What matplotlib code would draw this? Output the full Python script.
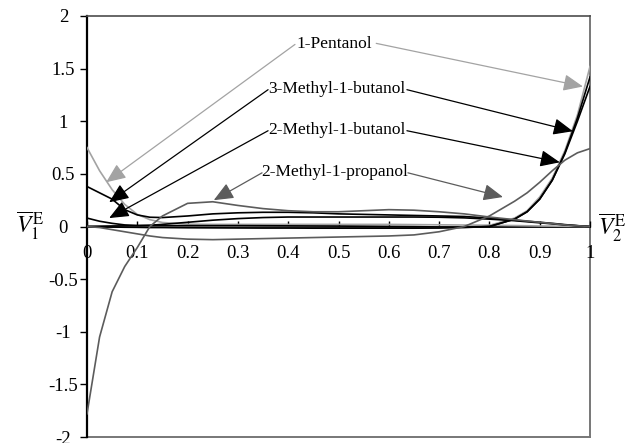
import numpy as np
import matplotlib
matplotlib.use("Agg")
import matplotlib.pyplot as plt

plt.rcParams["font.family"] = ["Liberation Serif", "DejaVu Serif"]
plt.rcParams["mathtext.fontset"] = "stix"

# mole fraction grid
x = [0, 0.025, 0.05, 0.075, 0.1, 0.125, 0.15, 0.2, 0.25, 0.3, 0.35, 0.4, 0.45,
     0.5, 0.55, 0.6, 0.65, 0.7, 0.75, 0.8, 0.85, 0.875, 0.9, 0.925, 0.95, 0.975, 1.0]

# partial molar excess volumes of component 1
pent_v1 = [0.75, 0.53, 0.35, 0.21, 0.115, 0.065, 0.038, 0.022, 0.02, 0.02, 0.02, 0.02, 0.02,
           0.02, 0.02, 0.02, 0.018, 0.016, 0.014, 0.012, 0.009, 0.007, 0.005, 0.004, 0.002, 0.001, 0.0]
mb3_v1 = [0.38, 0.32, 0.26, 0.16, 0.11, 0.088, 0.085, 0.1, 0.12, 0.13, 0.135, 0.135, 0.13,
          0.12, 0.115, 0.11, 0.105, 0.1, 0.095, 0.08, 0.06, 0.05, 0.04, 0.03, 0.018, 0.008, 0.0]
mb2_v1 = [0.08, 0.05, 0.03, 0.015, 0.01, 0.012, 0.02, 0.04, 0.06, 0.075, 0.085, 0.09, 0.09,
          0.09, 0.09, 0.09, 0.09, 0.088, 0.082, 0.07, 0.055, 0.045, 0.035, 0.025, 0.015, 0.007, 0.0]
mp2_v1 = [-1.78, -1.05, -0.62, -0.38, -0.2, 0.0, 0.1, 0.22, 0.235, 0.2, 0.17, 0.15, 0.14,
          0.14, 0.15, 0.16, 0.155, 0.14, 0.12, 0.09, 0.065, 0.052, 0.04, 0.028, 0.015, 0.007, 0.0]

# partial molar excess volumes of component 2
pent_v2 = [0.0, 0.0, 0.0, 0.0, 0.0, 0.0, 0.0, 0.0, 0.0, 0.0, 0.0, 0.0, 0.0,
           0.0, 0.0, 0.0, 0.0, -0.005, -0.005, 0.01, 0.08, 0.15, 0.28, 0.46, 0.72, 1.06, 1.52]
mb3_v2 = [0.0, -0.003, -0.005, -0.007, -0.008, -0.01, -0.01, -0.012, -0.013, -0.014, -0.015, -0.015, -0.016,
          -0.016, -0.016, -0.016, -0.016, -0.015, -0.01, 0.0, 0.07, 0.14, 0.26, 0.44, 0.7, 1.03, 1.42]
mb2_v2 = [0.0, 0.003, 0.005, 0.006, 0.007, 0.008, 0.008, 0.008, 0.008, 0.008, 0.007, 0.006, 0.005,
          0.004, 0.002, 0.0, -0.002, -0.004, -0.005, 0.0, 0.07, 0.14, 0.26, 0.44, 0.69, 1.0, 1.33]
mp2_v2 = [0.0, -0.01, -0.03, -0.05, -0.07, -0.09, -0.105, -0.12, -0.125, -0.12, -0.115, -0.11, -0.105,
          -0.1, -0.095, -0.09, -0.08, -0.05, 0.0, 0.1, 0.24, 0.32, 0.42, 0.53, 0.63, 0.7, 0.74]

names = ["1-Pentanol", "3-Methyl-1-butanol", "2-Methyl-1-butanol", "2-Methyl-1-propanol"]
colors = ["#a3a3a3", "#000000", "#000000", "#5c5c5c"]
v1_series = [pent_v1, mb3_v1, mb2_v1, mp2_v1]
v2_series = [pent_v2, mb3_v2, mb2_v2, mp2_v2]

# label centres and arrow (start, tip) pairs, in data units
label_pos = [(0.492, 1.73), (0.496, 1.31), (0.496, 0.92), (0.492, 0.515)]
arrows = [
    [((0.4135, 1.73), (0.038, 0.42)), ((0.575, 1.74), (0.986, 1.33))],
    [((0.36, 1.30), (0.044, 0.23)), ((0.636, 1.30), (0.966, 0.905))],
    [((0.36, 0.91), (0.044, 0.08)), ((0.636, 0.91), (0.94, 0.61))],
    [((0.348, 0.51), (0.252, 0.25)), ((0.638, 0.51), (0.827, 0.28))],
]

fig = plt.figure(figsize=(6.32, 4.43), dpi=100)
ax = fig.add_axes([87 / 632, 1 - 437 / 443, 503 / 632, 421 / 443])

for c, v1, v2 in zip(colors, v1_series, v2_series):
    ax.plot(x, v1, color=c, lw=1.2, zorder=3)
    ax.plot(x, v2, color=c, lw=1.2, zorder=3)

for name, c, pos, arr in zip(names, colors, label_pos, arrows):
    ax.text(pos[0], pos[1], name, ha="center", va="center", fontsize=12.5)
    for start, tip in arr:
        ax.annotate("", xy=tip, xytext=start,
                    arrowprops=dict(arrowstyle="-|>,head_length=0.75,head_width=0.32",
                                    color=c, lw=0.9, shrinkA=0, shrinkB=0,
                                    mutation_scale=16))

ax.set_xlim(0, 1)
ax.set_ylim(-2, 2)

xticks = [0, 0.1, 0.2, 0.3, 0.4, 0.5, 0.6, 0.7, 0.8, 0.9, 1]
xlabels = ["0", "0.1", "0.2", "0.3", "0.4", "0.5", "0.6", "0.7", "0.8", "0.9", "1"]
yticks = [-2, -1.5, -1, -0.5, 0, 0.5, 1, 1.5, 2]
ylabels = ["-2", "-1.5", "-1", "-0.5", "0", "0.5", "1", "1.5", "2"]

ax.spines["bottom"].set_position(("data", 0))
ax.spines["bottom"].set_color("black")
ax.spines["bottom"].set_linewidth(1.3)
ax.spines["left"].set_linewidth(1.6)
ax.spines["top"].set_color("#4d4d4d")
ax.spines["top"].set_linewidth(1.2)
ax.spines["right"].set_color("#777777")
ax.spines["right"].set_linewidth(1.4)
ax.spines["right"].set_zorder(1)
ax.axhline(-2, color="#777777", lw=1.4, clip_on=False, zorder=1)

ax.set_xticks(xticks)
ax.set_xticklabels(xlabels)
ax.set_yticks(yticks)
ax.set_yticklabels(ylabels)
ax.tick_params(axis="x", direction="in", length=4, width=1, pad=13, labelsize=13.5)
ax.tick_params(axis="y", direction="out", length=5, width=1, pad=12, labelsize=13.5)
for lab in ax.get_yticklabels():
    lab.set_horizontalalignment("center")

fig.text(30 / 632, 1 - 226 / 443, r"$\overline{V}_{1}^{\,\mathrm{E}}$", fontsize=17,
         ha="center", va="center")
fig.text(612 / 632, 1 - 228 / 443, r"$\overline{V}_{2}^{\,\mathrm{E}}$", fontsize=17,
         ha="center", va="center")

fig.savefig("out.png", dpi=100)
